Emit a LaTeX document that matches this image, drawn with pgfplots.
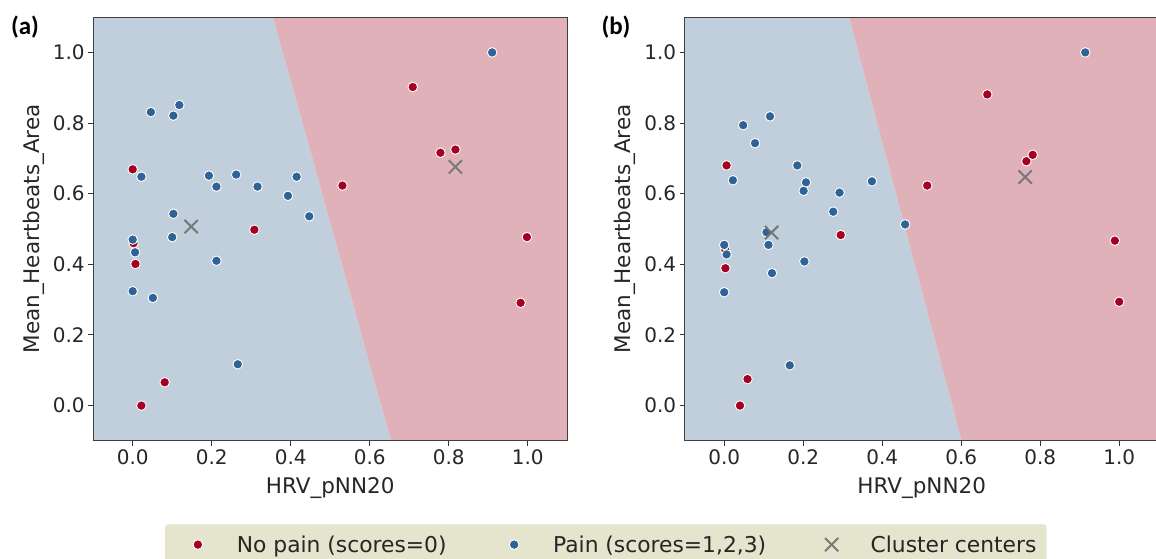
\documentclass[border=0pt]{standalone}
\usepackage{pgfplots}
\pgfplotsset{compat=1.18}
\usepackage{fontspec}
\setmainfont{DejaVu Sans}
\newfontfamily\carlito{Carlito}
\definecolor{bgblue}{RGB}{193,207,220}
\definecolor{bgred}{RGB}{225,177,186}
\definecolor{ptred}{RGB}{165,0,33}
\definecolor{ptblue}{RGB}{47,98,150}
\definecolor{ctr}{RGB}{120,120,120}
\definecolor{legbg}{RGB}{229,228,205}
\definecolor{txt}{RGB}{38,38,38}

\pgfplotsset{
  panel/.style={
    scale only axis, width=474pt, height=423.8pt,
    xmin=-0.1, xmax=1.1, ymin=-0.1, ymax=1.1,
    axis on top,
    xtick={0,0.2,0.4,0.6,0.8,1.0},
    ytick={0,0.2,0.4,0.6,0.8,1.0},
    tick align=outside, major tick length=5pt,
    xtick pos=bottom, ytick pos=left,
    tick style={black!80, line width=1pt},
    axis line style={black!75, line width=1pt},
    /pgf/number format/assume math mode=true,
    /pgf/number format/fixed, /pgf/number format/fixed zerofill,
    /pgf/number format/precision=1,
    ticklabel style={font=\fontsize{20}{24}\selectfont, text=txt},
    label style={font=\fontsize{21.5}{26}\selectfont, text=txt},
    xlabel={HRV\_pNN20},
    ylabel={Mean\_Heartbeats\_Area},
    xlabel style={at={(axis description cs:0.5,-0.111)}, anchor=center},
    ylabel style={at={(axis description cs:-0.126,0.5)}, anchor=center},
  },
  redpts/.style={only marks, mark=*, mark size=4.8pt, mark options={fill=ptred, draw=white, line width=0.9pt}},
  bluepts/.style={only marks, mark=*, mark size=4.8pt, mark options={fill=ptblue, draw=white, line width=0.9pt}},
  ctrpts/.style={only marks, mark=x, mark size=9.4pt, mark options={draw=ctr, line width=2pt}},
  legA/.style={legend image code/.code={\path[draw=none,fill=none] (0pt,-5pt) rectangle (61.7pt,5pt); \draw[##1] plot coordinates {(22.7pt,0pt)};}},
  legB/.style={legend image code/.code={\path[draw=none,fill=none] (0pt,-5pt) rectangle (106.6pt,5pt); \draw[##1] plot coordinates {(67.6pt,0pt)};}},
  legC/.style={legend image code/.code={\path[draw=none,fill=none] (0pt,-5pt) rectangle (104.5pt,5pt); \draw[##1] plot coordinates {(65.5pt,0pt)};}},
}

\begin{document}
\begin{tikzpicture}
\useasboundingbox (0,0) rectangle (1156pt,558pt);

% ---------------- panel (a)
\begin{axis}[panel, at={(93.2pt,117.1pt)}, anchor=south west,
  legend columns=3,
  legend style={at={(axis description cs:0.1515,-0.197)}, anchor=north west,
    fill=legbg, draw=black!12, rounded corners=3pt,
    inner xsep=10pt, inner ysep=9pt,
    font=\fontsize{21.8}{26}\selectfont, text=txt,
    /tikz/column sep=0pt,
    nodes={inner xsep=0pt}},
]
\addplot[fill=bgblue, draw=none, forget plot] coordinates {(-0.1,-0.1) (0.654,-0.1) (0.355,1.1) (-0.1,1.1)} -- cycle;
\addplot[fill=bgred, draw=none, forget plot] coordinates {(0.654,-0.1) (1.1,-0.1) (1.1,1.1) (0.355,1.1)} -- cycle;

\addplot[redpts, legA] coordinates {
(0.0,0.669) (0.002,0.46) (0.007,0.401) (0.022,0.0) (0.081,0.066) (0.308,0.498)
(0.531,0.623) (0.709,0.902) (0.779,0.716) (0.817,0.725) (0.998,0.477) (0.982,0.291)};
\addlegendentry{No pain (scores=0)}
\addplot[bluepts, legB] coordinates {
(0.910,1.0) (0.046,0.831) (0.118,0.851) (0.103,0.821) (0.022,0.648) (0.193,0.651)
(0.212,0.620) (0.262,0.654) (0.316,0.620) (0.393,0.594) (0.415,0.648) (0.447,0.536)
(0.103,0.543) (0.0,0.470) (0.006,0.434) (0.100,0.477) (0.212,0.410) (0.0,0.324)
(0.051,0.305) (0.266,0.117)};
\addlegendentry{Pain (scores=1,2,3)}
\addplot[ctrpts, legC] coordinates {(0.148,0.507) (0.817,0.676)};
\addlegendentry{Cluster centers}
\end{axis}

% ---------------- panel (b)
\begin{axis}[panel, at={(684.7pt,117.1pt)}, anchor=south west]
\addplot[fill=bgblue, draw=none, forget plot] coordinates {(-0.1,-0.1) (0.601,-0.1) (0.316,1.1) (-0.1,1.1)} -- cycle;
\addplot[fill=bgred, draw=none, forget plot] coordinates {(0.601,-0.1) (1.1,-0.1) (1.1,1.1) (0.316,1.1)} -- cycle;

\addplot[redpts] coordinates {
(0.666,0.881) (0.006,0.680) (0.514,0.623) (0.765,0.692) (0.781,0.710) (0.295,0.483)
(0.003,0.44) (0.003,0.389) (0.059,0.075) (0.040,0.0) (0.989,0.467) (1.0,0.294)};
\addplot[bluepts] coordinates {
(0.914,1.0) (0.116,0.819) (0.048,0.794) (0.078,0.743) (0.185,0.680) (0.022,0.638)
(0.207,0.632) (0.201,0.608) (0.292,0.603) (0.374,0.635) (0.276,0.549) (0.458,0.513)
(0.107,0.491) (0.0,0.455) (0.006,0.428) (0.112,0.455) (0.203,0.408) (0.121,0.375)
(0.0,0.321) (0.166,0.114)};
\addplot[ctrpts] coordinates {(0.120,0.490) (0.762,0.647)};
\end{axis}

\node[font=\carlito\bfseries\fontsize{25}{30}\selectfont, text=black, anchor=center] at (25pt,531pt) {(a)};
\node[font=\carlito\bfseries\fontsize{25}{30}\selectfont, text=black, anchor=center] at (616pt,531pt) {(b)};
\end{tikzpicture}
\end{document}
